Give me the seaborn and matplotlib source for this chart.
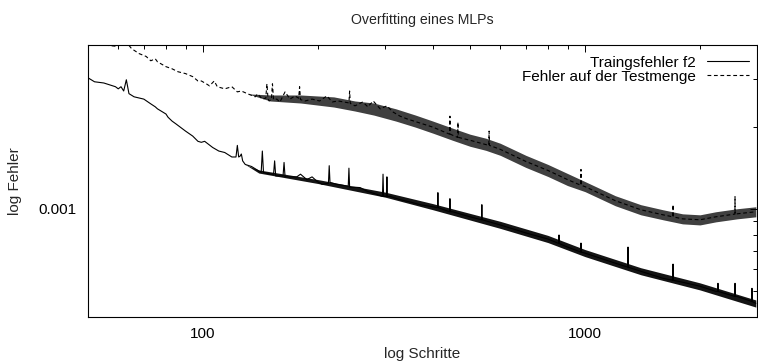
import numpy as np
import pandas as pd
import matplotlib
matplotlib.use("Agg")
import matplotlib.pyplot as plt
import seaborn as sns
from matplotlib.ticker import FixedLocator, FixedFormatter, NullFormatter

# ---------------- data ----------------
title = "Overfitting eines MLPs"
x_label = "log Schritte"
y_label = "log Fehler"
train_label = "Traingsfehler f2"
test_label = "Fehler auf der Testmenge"

train_steps = [50, 52, 55, 59, 60, 61, 62, 63, 64, 66, 70, 73, 75, 76, 80, 81, 83, 85,
               90, 94, 97, 99, 101, 106, 110, 114, 119, 122, 123, 124, 125, 126, 127,
               129, 134, 142, 143, 144, 150, 153, 154, 155, 160, 162, 163, 164, 176,
               180, 187, 193, 199, 205, 213, 214, 215, 224, 240, 241, 242, 250, 258,
               269, 285, 295, 296, 297, 302, 303, 304, 309, 328, 348, 370, 400, 411,
               412, 413, 442, 443, 444, 450, 500, 536, 537, 538, 600, 700, 800, 854,
               855, 856, 900, 975, 976, 977, 1000, 1200, 1295, 1296, 1297, 1400, 1600,
               1699, 1700, 1701, 1800, 2000, 2200, 2228, 2229, 2230, 2469, 2470, 2471,
               2500, 2735, 2736, 2737, 2800]
train_err = [3.03e-3, 2.93e-3, 2.90e-3, 2.81e-3, 2.76e-3, 2.81e-3, 2.71e-3, 2.98e-3,
             2.65e-3, 2.58e-3, 2.53e-3, 2.43e-3, 2.37e-3, 2.33e-3, 2.23e-3, 2.17e-3,
             2.10e-3, 2.05e-3, 1.93e-3, 1.85e-3, 1.77e-3, 1.755e-3, 1.77e-3, 1.68e-3,
             1.63e-3, 1.61e-3, 1.55e-3, 1.55e-3, 1.71e-3, 1.55e-3, 1.56e-3, 1.59e-3,
             1.50e-3, 1.455e-3, 1.43e-3, 1.36e-3, 1.63e-3, 1.36e-3, 1.34e-3, 1.34e-3,
             1.50e-3, 1.32e-3, 1.32e-3, 1.32e-3, 1.48e-3, 1.31e-3, 1.31e-3, 1.34e-3,
             1.28e-3, 1.31e-3, 1.26e-3, 1.23e-3, 1.24e-3, 1.44e-3, 1.25e-3, 1.23e-3,
             1.21e-3, 1.41e-3, 1.20e-3, 1.20e-3, 1.196e-3, 1.16e-3, 1.13e-3, 1.11e-3,
             1.34e-3, 1.11e-3, 1.11e-3, 1.31e-3, 1.11e-3, 1.11e-3, 1.08e-3, 1.06e-3,
             1.035e-3, 1.017e-3, 1.009e-3, 1.146e-3, 1.009e-3, 0.975e-3, 1.089e-3,
             0.975e-3, 0.975e-3, 0.934e-3, 0.911e-3, 1.035e-3, 0.911e-3, 0.872e-3,
             0.815e-3, 0.774e-3, 0.745e-3, 0.801e-3, 0.745e-3, 0.723e-3, 0.693e-3,
             0.748e-3, 0.693e-3, 0.687e-3, 0.631e-3, 0.610e-3, 0.723e-3, 0.610e-3,
             0.589e-3, 0.555e-3, 0.546e-3, 0.626e-3, 0.546e-3, 0.537e-3, 0.519e-3,
             0.497e-3, 0.497e-3, 0.532e-3, 0.497e-3, 0.476e-3, 0.532e-3, 0.476e-3,
             0.476e-3, 0.456e-3, 0.510e-3, 0.456e-3, 0.449e-3]

test_steps = [50, 53, 55, 56, 58, 60, 61, 62, 63, 65, 68, 71, 73, 75, 76, 80, 83, 86, 90,
              94, 97, 99, 102, 104, 107, 109, 114, 119, 123, 126, 131, 137, 139, 143,
              146, 147, 148, 149, 151, 152, 153, 156, 159, 164, 169, 174, 178, 179,
              180, 185, 193, 202, 211, 218, 226, 241, 242, 243, 250, 262, 270, 279,
              291, 303, 314, 328, 342, 400, 442, 443, 444, 450, 464, 465, 466, 500,
              560, 561, 562, 600, 700, 800, 900, 975, 976, 977, 1000, 1200, 1400,
              1600, 1699, 1700, 1701, 1800, 2000, 2200, 2469, 2470, 2471, 2500, 2800]
test_err = [4.30e-3, 4.10e-3, 4.02e-3, 3.99e-3, 3.97e-3, 3.95e-3, 4.12e-3, 3.98e-3,
            4.10e-3, 3.88e-3, 3.72e-3, 3.63e-3, 3.50e-3, 3.56e-3, 3.47e-3, 3.33e-3,
            3.27e-3, 3.19e-3, 3.14e-3, 3.06e-3, 2.95e-3, 2.95e-3, 2.88e-3, 2.83e-3,
            2.95e-3, 2.81e-3, 2.76e-3, 2.81e-3, 2.69e-3, 2.71e-3, 2.645e-3, 2.58e-3,
            2.645e-3, 2.53e-3, 2.55e-3, 2.88e-3, 2.53e-3, 2.49e-3, 2.52e-3, 2.88e-3,
            2.52e-3, 2.53e-3, 2.47e-3, 2.69e-3, 2.53e-3, 2.60e-3, 2.55e-3, 2.81e-3,
            2.52e-3, 2.49e-3, 2.53e-3, 2.49e-3, 2.60e-3, 2.47e-3, 2.49e-3, 2.45e-3,
            2.71e-3, 2.44e-3, 2.39e-3, 2.47e-3, 2.37e-3, 2.49e-3, 2.33e-3, 2.39e-3,
            2.27e-3, 2.19e-3, 2.14e-3, 1.995e-3, 1.88e-3, 2.19e-3, 1.88e-3, 1.864e-3,
            1.83e-3, 2.08e-3, 1.83e-3, 1.786e-3, 1.71e-3, 1.93e-3, 1.71e-3, 1.654e-3,
            1.493e-3, 1.383e-3, 1.28e-3, 1.22e-3, 1.395e-3, 1.22e-3, 1.206e-3,
            1.071e-3, 0.9915e-3, 0.95e-3, 0.934e-3, 1.035e-3, 0.934e-3, 0.918e-3,
            0.911e-3, 0.934e-3, 0.956e-3, 1.108e-3, 0.956e-3, 0.958e-3, 0.975e-3]

# spread of the noisy (dense) parts of the curves: lower / upper envelopes
train_band_steps = [129, 140, 200, 300, 400, 600, 800, 1000, 1400, 2000, 2800]
train_band_lo = [1.455e-3, 1.353e-3, 1.238e-3, 1.103e-3, 0.9915e-3, 0.847e-3, 0.751e-3,
                 0.667e-3, 0.572e-3, 0.503e-3, 0.435e-3]
train_band_hi = [1.455e-3, 1.389e-3, 1.280e-3, 1.151e-3, 1.044e-3, 0.899e-3, 0.798e-3,
                 0.708e-3, 0.607e-3, 0.534e-3, 0.462e-3]

test_band_steps = [131, 150, 180, 220, 250, 280, 320, 360, 400, 450, 500, 550, 600,
                   700, 800, 900, 1000, 1200, 1400, 1600, 1800, 2000, 2200, 2500, 2800]
test_band_lo = [2.645e-3, 2.49e-3, 2.448e-3, 2.366e-3, 2.287e-3, 2.21e-3, 2.10e-3,
                1.995e-3, 1.896e-3, 1.786e-3, 1.697e-3, 1.640e-3, 1.572e-3, 1.419e-3,
                1.314e-3, 1.217e-3, 1.156e-3, 1.026e-3, 0.950e-3, 0.911e-3, 0.880e-3,
                0.872e-3, 0.895e-3, 0.918e-3, 0.934e-3]
test_band_hi = [2.645e-3, 2.62e-3, 2.62e-3, 2.578e-3, 2.49e-3, 2.448e-3, 2.33e-3,
                2.21e-3, 2.10e-3, 1.979e-3, 1.880e-3, 1.817e-3, 1.741e-3, 1.572e-3,
                1.455e-3, 1.348e-3, 1.259e-3, 1.117e-3, 1.035e-3, 0.9915e-3, 0.958e-3,
                0.950e-3, 0.975e-3, 1.0e-3, 1.017e-3]

x_major = [100, 1000]
x_major_labels = ["100", "1000"]
x_minor = [60, 70, 80, 90, 200, 300, 400, 500, 600, 700, 800, 900, 2000]
y_major = [0.001]
y_major_labels = ["0.001"]
y_minor = [0.0005, 0.0006, 0.0007, 0.0008, 0.0009, 0.002, 0.003]

# ---------------- plot ----------------
sns.set_style("white")
plt.rcParams['font.family'] = ['Liberation Sans', 'DejaVu Sans']
FS = 11

W, H = 758, 362
fig = plt.figure(figsize=(W / 100, H / 100), dpi=100)
L, R, T, B = 88, 757, 45, 317
ax = fig.add_axes([L / W, 1 - B / H, (R - L) / W, (B - T) / H])

train_df = pd.DataFrame({"step": train_steps, "err": train_err})
test_df = pd.DataFrame({"step": test_steps, "err": test_err})

ax.fill_between(test_band_steps, test_band_lo, test_band_hi, color="black",
                alpha=0.75, lw=0)
ax.fill_between(train_band_steps, train_band_lo, train_band_hi, color="black",
                alpha=0.92, lw=0)

sns.lineplot(data=train_df, x="step", y="err", ax=ax, color="black", lw=0.8,
             estimator=None, sort=False, label=train_label)
sns.lineplot(data=test_df, x="step", y="err", ax=ax, color="black", lw=0.8,
             estimator=None, sort=False, label=test_label,
             linestyle=(0, (3.4, 2.4)))

ax.set_xscale("log")
ax.set_yscale("log")
ax.set_xlim(50, 2820)
ax.set_ylim(0.0004, 0.004)

ax.xaxis.set_major_locator(FixedLocator(x_major))
ax.xaxis.set_major_formatter(FixedFormatter(x_major_labels))
ax.xaxis.set_minor_locator(FixedLocator(x_minor))
ax.xaxis.set_minor_formatter(NullFormatter())
ax.yaxis.set_major_locator(FixedLocator(y_major))
ax.yaxis.set_major_formatter(FixedFormatter(y_major_labels))
ax.yaxis.set_minor_locator(FixedLocator(y_minor))
ax.yaxis.set_minor_formatter(NullFormatter())

ax.tick_params(which="both", direction="in", top=True, right=True,
               color="black", width=0.7, labelsize=FS, labelcolor="black")
ax.tick_params(which="major", length=5)
ax.tick_params(which="minor", length=3)
ax.tick_params(axis="x", which="major", pad=7)
ax.tick_params(axis="y", which="major", pad=8)

for s in ax.spines.values():
    s.set_color("black")
    s.set_linewidth(0.8)

ax.set_xlabel("")
ax.set_ylabel("")
fig.text(((L + R) / 2) / W, 1 - 20 / H, title, ha="center", va="center", fontsize=10.2)
fig.text(((L + R) / 2) / W, 1 - 354 / H, x_label, ha="center", va="center", fontsize=FS)
fig.text(15 / W, 1 - ((T + B) / 2) / H, y_label, ha="center", va="center",
         rotation=90, fontsize=FS)

leg = ax.legend(loc="upper right", frameon=False, markerfirst=False, fontsize=FS,
                handlelength=2.8, handletextpad=0.7, labelspacing=0.0,
                borderpad=0.0, borderaxespad=0.5,
                bbox_to_anchor=(1.0, 1.0 - 3 / (B - T)))
for t in leg.get_texts():
    t.set_color("black")

fig.savefig("out.png", dpi=100, facecolor="white")
